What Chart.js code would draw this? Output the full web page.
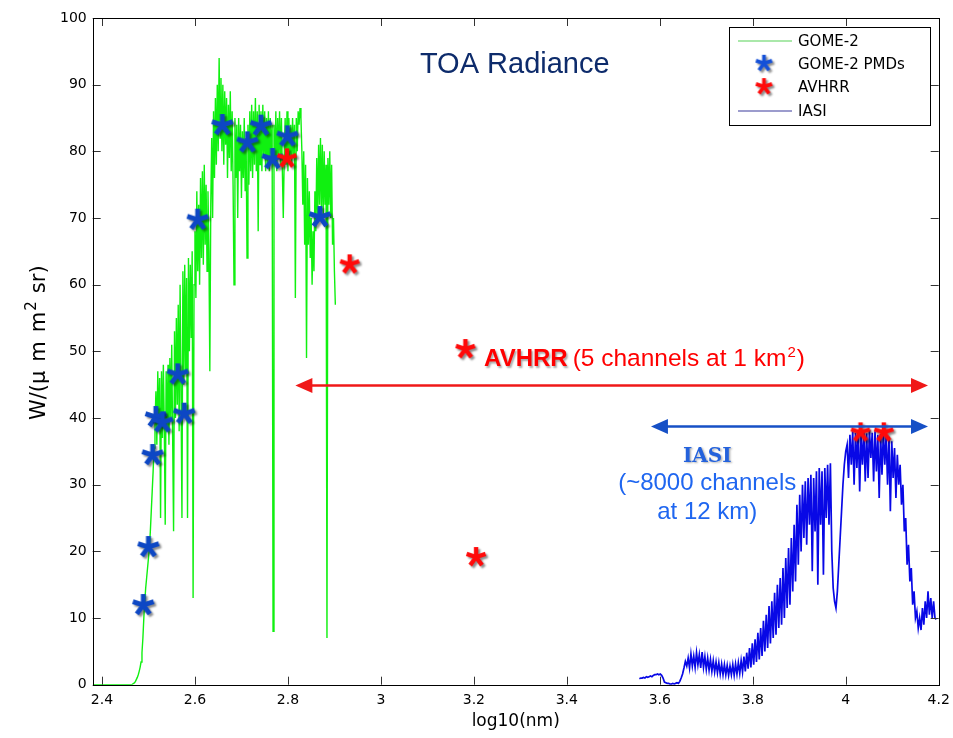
<!DOCTYPE html>
<html>
<head>
<meta charset="utf-8">
<title>TOA Radiance</title>
<script src="https://cdn.jsdelivr.net/npm/chart.js@4"></script>
<style>
  html, body { margin: 0; padding: 0; background: #fff; }
  #wrap { width: 953px; height: 738px; }
</style>
</head>
<body>
<div id="wrap"><canvas id="chart" width="953" height="738"></canvas></div>
<script>
// GOME-2 spectrum, one value every 0.002 log10(nm) from 2.380
const gomeStart = 2.38;
const gomeStep = 0.002;
const gomeRad = [
  0, 0, 0, 0, 0, 0, 0, 0, 0, 0,                    // 2.380
  0, 0, 0, 0, 0, 0, 0, 0, 0, 0,                    // 2.400
  0, 0, 0, 0, 0, 0, 0, 0, 0, 0,                    // 2.420
  0, 0, 0, 0, 0, 0, 0, 0, 0, 0,                    // 2.440
  0, 0, 0, 0.1, 0.2, 0.3, 0.5, 0.8, 1.1, 1.5,      // 2.460
  2.0, 2.6, 3.4, 4.8, 7.0, 10, 12.5, 14.5, 16, 17.5, // 2.480
  19, 20.5, 23, 26, 29, 32, 35.5, 39, 44, 36,      // 2.500
  47, 38, 46, 25, 47, 37, 48, 39, 24, 47,          // 2.520
  38, 48, 36, 49, 40, 51, 37, 23, 53, 40,          // 2.540
  55, 42, 57, 38, 60, 44, 25, 62, 45, 63,          // 2.560
  47, 61, 25, 64, 50, 63, 52, 65, 13, 60,          // 2.580
  68, 58, 74, 62, 72, 60, 76, 64, 77, 63,          // 2.600
  78, 66, 75, 62, 74, 65, 47, 72, 82, 70,          // 2.620
  86, 76, 88, 78, 90, 80, 94, 82, 91, 80,          // 2.640
  90, 78, 89, 81, 88, 76, 87, 79, 89, 77,          // 2.660
  86, 75, 60, 85, 76, 84, 70, 85, 77, 84,          // 2.680
  73, 83, 76, 85, 74, 82, 64, 84, 75, 86,          // 2.700
  77, 87, 76, 86, 78, 88, 77, 86, 68, 87,          // 2.720
  78, 86, 77, 87, 79, 86, 77, 85, 78, 86,          // 2.740
  77, 85, 79, 84, 8, 84, 78, 86, 77, 85,           // 2.760
  79, 86, 78, 85, 77, 70, 79, 85, 78, 86,          // 2.780
  77, 85, 79, 84, 78, 85, 79, 84, 58, 85,          // 2.800
  80, 86, 84, 86.5, 85, 80, 72, 80, 66, 78,        // 2.820
  49, 76, 66, 74, 64, 70, 60, 68, 62, 74,          // 2.840
  68, 79, 70, 81, 72, 82, 71, 81, 70, 80,          // 2.860
  72, 78, 7, 79, 72, 80, 70, 78, 66, 70,           // 2.880
  62, 57                                           // 2.900
];

// IASI spectrum, one value every 0.003 log10(nm) from 3.556
const iasiStart = 3.556;
const iasiStep = 0.003;
const iasiRad = [
  0.9, 1.0, 1.0, 1.1, 1.0, 1.2, 1.1, 1.2, 1.3, 1.2,          // 3.556
  1.4, 1.5, 1.5, 1.6, 1.5, 1.6, 1.4, 1.0, 0.4, 0.3,          // 3.586
  0.2, 0.2, 0.1, 0.1, 0.2, 0.1, 0.2, 0.3, 0.2, 0.5,          // 3.616
  1.0, 1.6, 2.5, 3.5, 2.8, 4.0, 2.5, 4.6, 2.8, 4.3,          // 3.646
  2.6, 4.8, 3.0, 4.5, 2.5, 4.9, 2.6, 4.2, 2.3, 4.0,          // 3.676
  2.2, 3.8, 2.0, 3.6, 1.9, 3.4, 1.8, 3.3, 1.6, 3.1,          // 3.706
  1.5, 3.0, 1.5, 2.9, 1.4, 2.8, 1.5, 3.0, 1.4, 3.1,          // 3.736
  1.6, 3.3, 1.7, 3.6, 1.9, 4.2, 2.0, 4.8, 2.4, 5.5,          // 3.766
  2.6, 6.2, 3.0, 6.8, 3.4, 7.8, 3.8, 8.5, 4.3, 9.6,          // 3.796
  5.0, 10.5, 5.5, 11.8, 6.2, 12.5, 7.0, 13.8, 7.5, 15.0,     // 3.826
  8.5, 16.0, 9.0, 17.5, 10.0, 19.0, 11.5, 20.5, 12.0, 22.0,  // 3.856
  14.0, 24.0, 15.5, 27.0, 18.0, 28.5, 20.0, 30.0, 22.0, 30.5, // 3.886
  21.0, 31.0, 24.0, 31.5, 17.0, 31.0, 23.0, 32.0, 15.0, 32.5, // 3.916
  24.0, 32.0, 16.5, 32.5, 25.0, 33.0, 24.0, 33.2, 20.0, 14.5, // 3.946
  12.5, 11.5, 14.0, 18.0, 22.0, 26.0, 30.0, 33.0, 35.0, 36.0, // 3.976
  31.0, 37.5, 33.0, 38.0, 30.0, 37.8, 32.5, 38.2, 29.0, 37.5, // 4.006
  33.0, 38.0, 30.5, 37.7, 31.0, 38.2, 34.0, 37.8, 30.5, 38.0, // 4.036
  32.0, 37.5, 28.0, 37.6, 31.5, 37.9, 33.0, 37.5, 30.0, 37.2, // 4.066
  26.0, 36.5, 31.0, 35.5, 28.0, 34.5, 30.0, 33.0, 27.0, 30.0, // 4.096
  23.0, 25.0, 18.0, 21.0, 15.5, 17.5, 12.0, 14.0, 10.0, 11.0, // 4.126
  8.5, 10.0, 8.2, 11.5, 9.0, 12.5, 10.0, 14.0, 10.5, 13.0,    // 4.156
  10.0, 12.5, 10.0, 9.8                                       // 4.186
];

// GOME-2 PMD bands
const pmdX = [2.491, 2.502, 2.511, 2.518, 2.532, 2.565, 2.579, 2.608, 2.661, 2.715, 2.744, 2.769, 2.801, 2.871];
const pmdY = [11.8, 20.5, 34.3, 40.0, 39.2, 46.4, 40.5, 69.6, 83.8, 81.2, 83.7, 78.7, 82.1, 70.0];

// AVHRR channels
const avhrrX = [2.800, 2.935, 3.207, 4.034, 4.084];
const avhrrY = [78.8, 62.9, 19.0, 37.7, 37.7];

const xTicks = [2.4, 2.6, 2.8, 3, 3.2, 3.4, 3.6, 3.8, 4, 4.2];
const yTicks = [0, 10, 20, 30, 40, 50, 60, 70, 80, 90, 100];

const GREEN = '#10f010';
const BLUE_LINE = '#0808e6';
const PMD_BLUE = '#0d47c4';
const RED = '#ff0a0a';

// asterisk marker with a drop shadow, like the slide
function starImage(color, size) {
  const c = document.createElement('canvas');
  c.width = size + 8; c.height = size + 8;
  const g = c.getContext('2d');
  const cx = c.width / 2 - 1, cy = c.height / 2 - 1, r = size / 2;
  g.strokeStyle = color;
  g.lineWidth = size * 0.22;
  g.shadowColor = 'rgba(0,0,0,0.45)';
  g.shadowOffsetX = 2; g.shadowOffsetY = 2; g.shadowBlur = 2;
  g.beginPath();
  for (let k = 0; k < 5; k++) {
    const a = -Math.PI / 2 + k * 2 * Math.PI / 5;
    g.moveTo(cx, cy);
    g.lineTo(cx + r * Math.cos(a), cy + r * Math.sin(a));
  }
  g.stroke();
  return c;
}

const blueStar = starImage(PMD_BLUE, 22);
const redStar = starImage(RED, 20);
const blueStarSmall = starImage('#1450d8', 17);
const redStarSmall = starImage(RED, 17);

const gomeData = gomeRad.map((v, i) => ({ x: +(gomeStart + i * gomeStep).toFixed(3), y: v }));
const iasiData = iasiRad.map((v, i) => ({ x: +(iasiStart + i * iasiStep).toFixed(3), y: v }));
const pmdData = pmdX.map((v, i) => ({ x: v, y: pmdY[i] }));
const avhrrData = avhrrX.map((v, i) => ({ x: v, y: avhrrY[i] }));

function arrow(ctx, x1, x2, yy, color, lw) {
  ctx.strokeStyle = color;
  ctx.fillStyle = color;
  ctx.lineWidth = lw;
  ctx.beginPath();
  ctx.moveTo(x1 + 10, yy); ctx.lineTo(x2 - 10, yy);
  ctx.stroke();
  ctx.beginPath();
  ctx.moveTo(x1, yy); ctx.lineTo(x1 + 17, yy - 7.5); ctx.lineTo(x1 + 17, yy + 7.5); ctx.closePath();
  ctx.fill();
  ctx.beginPath();
  ctx.moveTo(x2, yy); ctx.lineTo(x2 - 17, yy - 7.5); ctx.lineTo(x2 - 17, yy + 7.5); ctx.closePath();
  ctx.fill();
}

// box, inward ticks, legend, titles and the arrows / labels
const framePlugin = {
  id: 'frame',
  afterDraw(chart) {
    const { ctx, chartArea: a, scales: { x, y } } = chart;
    ctx.save();

    ctx.strokeStyle = '#333';
    ctx.lineWidth = 1;
    ctx.beginPath();
    xTicks.forEach(v => {
      const p = Math.round(x.getPixelForValue(v)) + 0.5;
      ctx.moveTo(p, a.bottom); ctx.lineTo(p, a.bottom - 8);
      ctx.moveTo(p, a.top); ctx.lineTo(p, a.top + 8);
    });
    yTicks.forEach(v => {
      const p = Math.round(y.getPixelForValue(v)) + 0.5;
      ctx.moveTo(a.left, p); ctx.lineTo(a.left + 8, p);
      ctx.moveTo(a.right, p); ctx.lineTo(a.right - 8, p);
    });
    ctx.stroke();
    ctx.strokeStyle = '#000';
    ctx.strokeRect(Math.round(a.left) + 0.5, Math.round(a.top) + 0.5,
      Math.round(a.right - a.left), Math.round(a.bottom - a.top));

    // y axis title with a real superscript
    ctx.save();
    ctx.translate(40, y.getPixelForValue(39.7));
    ctx.rotate(-Math.PI / 2);
    ctx.fillStyle = '#000';
    ctx.textBaseline = 'middle';
    ctx.textAlign = 'left';
    let px = 0;
    const part = (t, size, dy, gap) => {
      ctx.font = size + 'px "DejaVu Sans"';
      ctx.fillText(t, px, dy);
      px += ctx.measureText(t).width + gap;
    };
    part('W/(\u03bc', 21, 0, 9);
    part('m', 21, 0, 9);
    part('m', 21, 0, 1);
    part('2', 15, -8, 8);
    part('sr)', 21, 0, 0);
    ctx.restore();

    // legend
    const lx = Math.round(a.right) - 210, ly = Math.round(a.top) + 9;
    ctx.fillStyle = '#fff';
    ctx.fillRect(lx, ly, 201, 98);
    ctx.strokeStyle = '#000';
    ctx.strokeRect(lx + 0.5, ly + 0.5, 201, 98);
    ctx.font = '15px "DejaVu Sans"';
    ctx.textBaseline = 'middle';
    ctx.textAlign = 'left';
    const rows = [
      { label: chart.data.datasets[0].label, line: '#8ee08e' },
      { label: chart.data.datasets[1].label, img: blueStarSmall },
      { label: chart.data.datasets[2].label, img: redStarSmall },
      { label: chart.data.datasets[3].label, line: '#7b7bbd' }
    ];
    rows.forEach((r, i) => {
      const yy = ly + 14 + i * 23.3;
      if (r.line) {
        ctx.strokeStyle = r.line;
        ctx.lineWidth = 1.5;
        ctx.beginPath(); ctx.moveTo(lx + 9, yy); ctx.lineTo(lx + 63, yy); ctx.stroke();
      } else {
        ctx.drawImage(r.img, lx + 36 - r.img.width / 2, yy - r.img.height / 2);
      }
      ctx.fillStyle = '#000';
      ctx.fillText(r.label, lx + 69, yy + 1);
    });

    // title
    ctx.fillStyle = '#0d2b6b';
    ctx.font = '29px "Liberation Sans"';
    ctx.textAlign = 'center';
    ctx.textBaseline = 'alphabetic';
    ctx.fillText('TOA Radiance', x.getPixelForValue(3.288), y.getPixelForValue(91.8));

    // AVHRR span
    arrow(ctx, x.getPixelForValue(2.816), x.getPixelForValue(4.177), Math.round(y.getPixelForValue(45)) + 0.5, '#f01818', 2.5);
    ctx.drawImage(redStar, x.getPixelForValue(3.184) - redStar.width / 2, y.getPixelForValue(50.2) - redStar.height / 2);
    const ax = x.getPixelForValue(3.222), ay = y.getPixelForValue(47.8);
    ctx.textAlign = 'left';
    ctx.fillStyle = '#ff0000';
    ctx.save();
    ctx.shadowColor = 'rgba(0,0,0,0.35)';
    ctx.shadowOffsetX = 1.5; ctx.shadowOffsetY = 1.5; ctx.shadowBlur = 2;
    ctx.font = 'bold 24px "Liberation Sans"';
    ctx.fillText('AVHRR', ax, ay);
    const w1 = ctx.measureText('AVHRR').width;
    ctx.restore();
    ctx.font = '24.5px "Liberation Sans"';
    const t2 = '(5 channels at 1 km';
    ctx.fillText(t2, ax + w1 + 5, ay);
    const w2 = ctx.measureText(t2).width;
    ctx.font = '15px "Liberation Sans"';
    ctx.fillText('2', ax + w1 + 5 + w2 + 1, ay - 9);
    const w3 = ctx.measureText('2').width;
    ctx.font = '24.5px "Liberation Sans"';
    ctx.fillText(')', ax + w1 + 5 + w2 + w3 + 2, ay);

    // IASI span
    arrow(ctx, x.getPixelForValue(3.581), x.getPixelForValue(4.177), Math.round(y.getPixelForValue(38.8)) + 0.5, '#1650c6', 2.5);
    const ix = x.getPixelForValue(3.702);
    ctx.textAlign = 'center';
    ctx.save();
    ctx.shadowColor = 'rgba(0,0,0,0.3)';
    ctx.shadowOffsetX = 1.5; ctx.shadowOffsetY = 1.5; ctx.shadowBlur = 2;
    ctx.fillStyle = '#2462dc';
    ctx.font = 'bold 20px "DejaVu Serif"';
    ctx.fillText('IASI', ix, y.getPixelForValue(33.45));
    ctx.restore();
    ctx.fillStyle = '#1f66f0';
    ctx.font = '24px "Liberation Sans"';
    ctx.fillText('(~8000 channels', ix, y.getPixelForValue(29.2));
    ctx.fillText('at 12 km)', ix, y.getPixelForValue(24.8));

    ctx.restore();
  }
};

new Chart(document.getElementById('chart'), {
  type: 'scatter',
  data: {
    datasets: [
      { label: 'GOME-2', data: gomeData, showLine: true, borderColor: GREEN, borderWidth: 1.4,
        pointRadius: 0, order: 3 },
      { label: 'GOME-2 PMDs', data: pmdData, pointStyle: blueStar, pointRadius: 10, order: 1 },
      { label: 'AVHRR', data: avhrrData, pointStyle: redStar, pointRadius: 10, order: 0 },
      { label: 'IASI', data: iasiData, showLine: true, borderColor: BLUE_LINE, borderWidth: 1.7,
        pointRadius: 0, order: 2 }
    ]
  },
  options: {
    responsive: false,
    animation: false,
    devicePixelRatio: 1,
    layout: { padding: { top: 18, right: 14.3, left: 0, bottom: 0 } },
    plugins: { legend: { display: false }, tooltip: { enabled: false } },
    scales: {
      x: {
        type: 'linear', min: 2.38, max: 4.2,
        afterBuildTicks: s => { s.ticks = xTicks.map(v => ({ value: v })); },
        afterFit: s => { s.height = 53.3; s.paddingLeft = 0; s.paddingRight = 0; },
        grid: { display: false, drawTicks: false },
        border: { display: false },
        ticks: { padding: 7, maxRotation: 0, color: '#000', font: { family: '"DejaVu Sans"', size: 14 },
          callback: v => String(v) },
        title: { display: true, text: 'log10(nm)', color: '#000', align: 'center',
          font: { family: '"DejaVu Sans"', size: 17 }, padding: { top: 0, bottom: 6 } }
      },
      y: {
        min: 0, max: 100,
        afterBuildTicks: s => { s.ticks = yTicks.map(v => ({ value: v })); },
        afterFit: s => { s.width = 92.7; s.paddingTop = 0; s.paddingBottom = 0; },
        grid: { display: false, drawTicks: false },
        border: { display: false },
        ticks: { padding: 6, color: '#000', font: { family: '"DejaVu Sans"', size: 14 },
          callback: v => String(v) },
        title: { display: false }
      }
    }
  },
  plugins: [framePlugin]
});
</script>
</body>
</html>
